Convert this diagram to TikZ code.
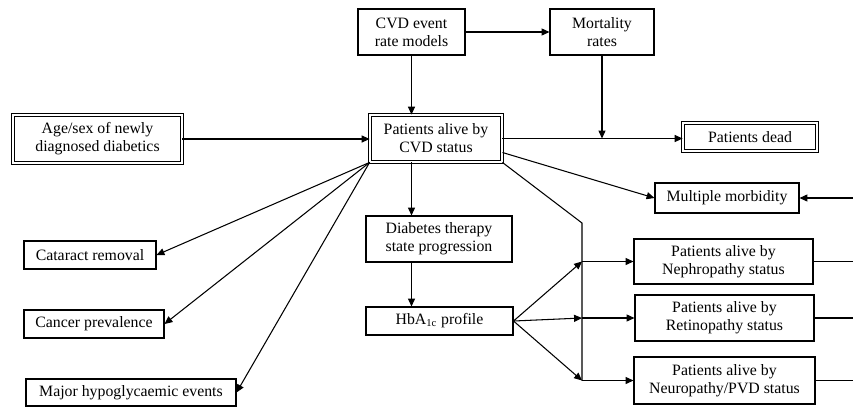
\documentclass[tikz,border=0pt]{standalone}
\usepackage{fontspec}
\setmainfont{Liberation Serif}
\usetikzlibrary{arrows.meta}
\tikzset{
  box/.style={draw,line width=0.6pt,align=center,inner sep=0pt,
    font=\fontsize{9}{10.3}\selectfont},
  dbox/.style={box,double,double distance=1pt,line width=0.5pt}
}
\begin{document}
\begin{tikzpicture}[x=0.02cm,y=-0.02cm,line width=0.6pt,>={Triangle[length=4.5pt,width=4pt]}]
  \useasboundingbox (0,0) rectangle (853,407);
  \node[box,minimum width=2.14cm,minimum height=0.92cm] (cvd) at (411.5,32) {CVD event\\rate models};
  \node[box,minimum width=2.08cm,minimum height=0.92cm] (mort) at (602,32) {Mortality\\rates};
  \node[dbox,minimum width=3.38cm,minimum height=0.96cm] (agesex) at (97.5,139) {Age/sex of newly\\diagnosed diabetics};
  \node[dbox,minimum width=2.64cm,minimum height=0.94cm] (alive) at (436,138.5) {Patients alive by\\CVD status};
  \node[dbox,minimum width=2.68cm,minimum height=0.56cm] (dead) at (750,137) {Patients dead};
  \node[box,minimum width=2.88cm,minimum height=0.6cm] (multi) at (727,198) {Multiple morbidity};
  \node[box,minimum width=2.64cm,minimum height=0.56cm] (cat) at (90,255) {Cataract removal};
  \node[box,minimum width=2.8cm,minimum height=0.56cm] (canc) at (94,324) {Cancer prevalence};
  \node[box,minimum width=4.2cm,minimum height=0.54cm] (hypo) at (131,392.5) {Major hypoglycaemic events};
  \node[box,minimum width=2.92cm,minimum height=0.92cm] (ther) at (439,239) {Diabetes therapy\\state progression};
  \node[box,minimum width=2.94cm,minimum height=0.56cm] (hba) at (439.5,321) {HbA\textsubscript{1c} profile};
  \node[box,minimum width=3.58cm,minimum height=0.9cm] (neph) at (723.5,261.5) {Patients alive by\\Nephropathy status};
  \node[box,minimum width=3.58cm,minimum height=0.92cm] (reti) at (724.5,318) {Patients alive by\\Retinopathy status};
  \node[box,minimum width=3.62cm,minimum height=0.94cm] (neur) at (724.5,380.5) {Patients alive by\\Neuropathy/PVD status};
  \coordinate (knee) at (582,223);
  \coordinate (back) at (853,198);
  \draw[->] (cvd.east) -- (mort.west);
  \draw[->] (cvd.south) -- (cvd.south |- alive.north);
  \draw[->] (agesex.east) -- (agesex.east -| alive.west);
  \draw[->] (alive.east) -- (alive.east -| dead.west);
  \draw[->] (mort.south) -- (mort.south |- alive.east);
  \draw[->] ([yshift=-0.28cm]alive.east) -- (multi.west);
  \draw[->] (back) -- (multi.east);
  \draw (alive.south east) -- (knee) -- (knee |- neur.west);
  \draw[->] (knee |- neph.west) -- (neph.west);
  \draw[->] (knee |- reti.west) -- (reti.west);
  \draw[->] (knee |- neur.west) -- (neur.west);
  \draw[->] (hba.east) -- (knee |- neph.west);
  \draw[->] (hba.east) -- (knee |- reti.west);
  \draw[->] (hba.east) -- (knee |- neur.west);
  \draw[->] (alive.south west) -- (cat.east);
  \draw[->] (alive.south west) -- (canc.east);
  \draw[->] (alive.south west) -- (hypo.east);
  \draw[->] (cvd.south |- alive.south) -- (cvd.south |- ther.north);
  \draw[->] (cvd.south |- ther.south) -- (cvd.south |- hba.north);
  \draw (neph.east) -- (neph.east -| back);
  \draw (reti.east) -- (reti.east -| back);
  \draw (neur.east) -- (neur.east -| back);
\end{tikzpicture}
\end{document}
